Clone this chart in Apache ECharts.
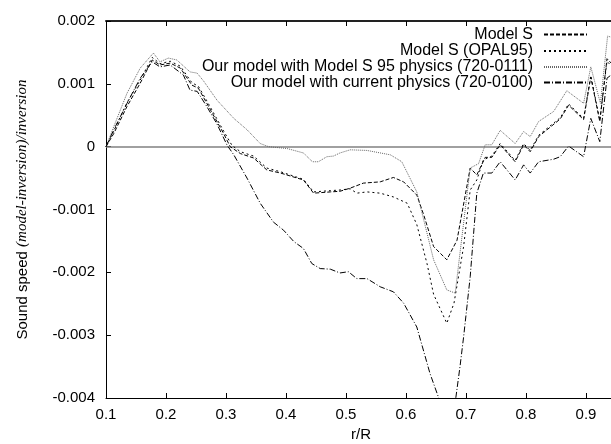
<!DOCTYPE html>
<html>
<head>
<meta charset="utf-8">
<script src="https://cdn.jsdelivr.net/npm/echarts@6/dist/echarts.min.js"></script>
<style>
  html, body { margin: 0; padding: 0; background: #fff; }
  #chart { width: 611px; height: 444px; }
</style>
</head>
<body>
<div id="chart"></div>
<script>
// Relative sound-speed difference (model - inversion) / inversion against r/R.
const seriesNames = [
  'Model S',
  'Model S (OPAL95)',
  'Our model with Model S 95 physics (720-0111)',
  'Our model with current physics (720-0100)'
];

const rModelS = [0.100, 0.113, 0.135, 0.157, 0.177, 0.190, 0.207, 0.224, 0.243, 0.254, 0.268, 0.296, 0.307, 0.324, 0.346, 0.368, 0.391, 0.429, 0.446, 0.474, 0.490, 0.507, 0.529, 0.557, 0.579, 0.596, 0.618, 0.630, 0.646, 0.668, 0.685, 0.707, 0.718, 0.732, 0.743, 0.757, 0.782, 0.796, 0.807, 0.821, 0.857, 0.871, 0.896, 0.908, 0.923, 0.935, 0.950];
const vModelS = [0, 0.00021, 0.00064, 0.00101, 0.00138, 0.00130, 0.00133, 0.00125, 0.00098, 0.00093, 0.00069, 0.00021, 0.00000, -0.00011, -0.00018, -0.00037, -0.00042, -0.00053, -0.00074, -0.00072, -0.00071, -0.00066, -0.00058, -0.00056, -0.00049, -0.00056, -0.00077, -0.00110, -0.00159, -0.00180, -0.00149, -0.00034, -0.00045, -0.00017, -0.00017, 0.00003, -0.00024, 0.00003, -0.00008, 0.00016, 0.00044, 0.00066, 0.00043, 0.00111, 0.00040, 0.00140, 0.00125];

const rOpal95 = [0.100, 0.113, 0.135, 0.157, 0.177, 0.190, 0.207, 0.224, 0.243, 0.254, 0.268, 0.296, 0.310, 0.324, 0.346, 0.368, 0.391, 0.429, 0.446, 0.474, 0.490, 0.507, 0.518, 0.535, 0.557, 0.579, 0.602, 0.618, 0.635, 0.646, 0.668, 0.680, 0.696, 0.707, 0.718, 0.729, 0.743, 0.757, 0.782, 0.796, 0.807, 0.821, 0.857, 0.871, 0.896, 0.908, 0.923, 0.935, 0.950];
const vOpal95 = [0, 0.00025, 0.00070, 0.00106, 0.00142, 0.00132, 0.00136, 0.00128, 0.00102, 0.00096, 0.00073, 0.00025, 0.00002, -0.00008, -0.00015, -0.00034, -0.00040, -0.00052, -0.00072, -0.00070, -0.00069, -0.00067, -0.00074, -0.00072, -0.00074, -0.00080, -0.00090, -0.00124, -0.00186, -0.00235, -0.00281, -0.00249, -0.00159, -0.00069, -0.00053, -0.00021, -0.00015, 0.00005, -0.00022, 0.00005, -0.00006, 0.00018, 0.00046, 0.00068, 0.00045, 0.00113, 0.00042, 0.00136, 0.00120];

const rOur95 = [0.100, 0.113, 0.135, 0.157, 0.179, 0.190, 0.204, 0.218, 0.240, 0.252, 0.263, 0.285, 0.313, 0.335, 0.357, 0.371, 0.402, 0.429, 0.444, 0.454, 0.468, 0.479, 0.490, 0.507, 0.535, 0.574, 0.593, 0.618, 0.646, 0.668, 0.682, 0.707, 0.721, 0.732, 0.743, 0.757, 0.782, 0.796, 0.807, 0.821, 0.846, 0.868, 0.896, 0.908, 0.924, 0.936, 0.950];
const vOur95 = [0, 0.00032, 0.00085, 0.00125, 0.00149, 0.00135, 0.00141, 0.00138, 0.00119, 0.00117, 0.00104, 0.00074, 0.00045, 0.00027, 0.00005, 0.00000, -0.00003, -0.00010, -0.00024, -0.00024, -0.00016, -0.00015, -0.00010, -0.00005, -0.00006, -0.00013, -0.00024, -0.00072, -0.00180, -0.00228, -0.00233, -0.00034, -0.00027, 0.00003, 0.00003, 0.00026, 0.00005, 0.00024, 0.00016, 0.00040, 0.00056, 0.00089, 0.00069, 0.00127, 0.00069, 0.00176, 0.00172];

const rCurrent = [0.100, 0.113, 0.135, 0.157, 0.177, 0.190, 0.207, 0.229, 0.240, 0.252, 0.268, 0.285, 0.302, 0.313, 0.335, 0.357, 0.379, 0.396, 0.413, 0.429, 0.443, 0.457, 0.474, 0.490, 0.504, 0.518, 0.535, 0.557, 0.579, 0.596, 0.618, 0.640, 0.662, 0.676, 0.690, 0.696, 0.707, 0.718, 0.729, 0.743, 0.757, 0.782, 0.796, 0.807, 0.821, 0.846, 0.857, 0.871, 0.896, 0.908, 0.923, 0.935, 0.950];
const vCurrent = [0, 0.00027, 0.00069, 0.00109, 0.00135, 0.00127, 0.00130, 0.00114, 0.00090, 0.00088, 0.00064, 0.00036, 0.00002, -0.00013, -0.00050, -0.00090, -0.00120, -0.00133, -0.00151, -0.00162, -0.00186, -0.00194, -0.00195, -0.00201, -0.00199, -0.00210, -0.00210, -0.00223, -0.00231, -0.00249, -0.00287, -0.00361, -0.00420, -0.00450, -0.00350, -0.00303, -0.00207, -0.00074, -0.00042, -0.00042, -0.00024, -0.00053, -0.00029, -0.00042, -0.00024, -0.00020, -0.00016, 0.00001, -0.00016, 0.00045, 0.00008, 0.00109, 0.00120];

const xTicks = { min: 0.1, max: 0.95, interval: 0.1 };
const yTicks = { min: -0.004, max: 0.002, interval: 0.001 };

const SANS = 'Liberation Sans, Arial, Helvetica, sans-serif';
const SERIF = 'Liberation Serif, Times New Roman, serif';

function pairs(rs, vs) { return rs.map((r, i) => [r, vs[i]]); }

const lineStyles = [
  { color: '#000', width: 1, type: [4, 2] },
  { color: '#000', width: 1, type: [2, 3] },
  { color: '#666', width: 1, type: [1, 1] },
  { color: '#000', width: 1, type: [6, 2, 1, 2] }
];
const seriesData = [
  pairs(rModelS, vModelS),
  pairs(rOpal95, vOpal95),
  pairs(rOur95, vOur95),
  pairs(rCurrent, vCurrent)
];

const legendRows = [33.5, 50, 66, 81.5];

const chart = echarts.init(document.getElementById('chart'), null, { renderer: 'canvas' });

const axisBase = {
  type: 'value',
  splitLine: { show: false },
  axisTick: { show: true, inside: true, length: 5, lineStyle: { color: '#000', width: 1 } },
  axisLine: { show: true, onZero: false, lineStyle: { color: '#000', width: 1 } }
};

chart.setOption({
  animation: false,
  backgroundColor: '#fff',
  grid: { left: 106, top: 21, right: -5, bottom: 46, outerBoundsMode: 'none', containLabel: false },
  legend: seriesNames.map((name, i) => ({
    data: [name],
    right: 23,
    top: legendRows[i] - 7,
    align: 'right',
    orient: 'vertical',
    padding: 0,
    itemGap: 0,
    itemWidth: 43,
    itemHeight: 14,
    selectedMode: false,
    // key samples show only the line pattern, no point marker
    itemStyle: { opacity: 0 },
    lineStyle: { opacity: 1 },
    textStyle: { fontFamily: SANS, fontSize: 16, color: '#000', padding: [0, 6, 0, 0] }
  })),
  xAxis: [
    Object.assign({}, axisBase, {
      position: 'bottom',
      min: xTicks.min, max: xTicks.max, interval: xTicks.interval,
      name: 'r/R',
      nameLocation: 'middle',
      nameGap: 27,
      nameTextStyle: { fontFamily: SANS, fontSize: 15, color: '#000' },
      axisLabel: { margin: 9, fontFamily: SANS, fontSize: 15, color: '#000', showMaxLabel: false,
        formatter: v => String(Math.round(v * 10) / 10) }
    }),
    Object.assign({}, axisBase, {
      position: 'top',
      min: xTicks.min, max: xTicks.max, interval: xTicks.interval,
      axisLabel: { show: false },
      axisLine: { show: true, onZero: false, lineStyle: { color: '#222', width: 2 } }
    })
  ],
  yAxis: [
    Object.assign({}, axisBase, {
      position: 'left',
      min: yTicks.min, max: yTicks.max, interval: yTicks.interval,
      name: '{a|Sound speed }{b|(model-inversion)/inversion}',
      nameLocation: 'middle',
      nameRotate: 90,
      nameGap: 76,
      nameTextStyle: {
        rich: {
          a: { fontFamily: SANS, fontSize: 15, color: '#000' },
          b: { fontFamily: SERIF, fontStyle: 'italic', fontSize: 15, color: '#000' }
        }
      },
      axisLabel: { margin: 11, fontFamily: SANS, fontSize: 15, color: '#000',
        formatter: v => String(Math.round(v * 1000) / 1000) }
    }),
    Object.assign({}, axisBase, {
      position: 'right',
      min: yTicks.min, max: yTicks.max, interval: yTicks.interval,
      axisLabel: { show: false }
    })
  ],
  series: seriesNames.map((name, i) => ({
    name: name,
    type: 'line',
    xAxisIndex: 0,
    yAxisIndex: 0,
    data: seriesData[i],
    symbol: 'none',
    showSymbol: false,
    smooth: false,
    clip: true,
    color: lineStyles[i].color,
    lineStyle: lineStyles[i],
    z: 3,
    markLine: i === 0 ? {
      silent: true,
      symbol: ['none', 'none'],
      label: { show: false },
      lineStyle: { color: '#808080', type: 'solid', width: 1.5 },
      data: [{ yAxis: 0 }],
      z: 1
    } : undefined
  }))
});
</script>
</body>
</html>
